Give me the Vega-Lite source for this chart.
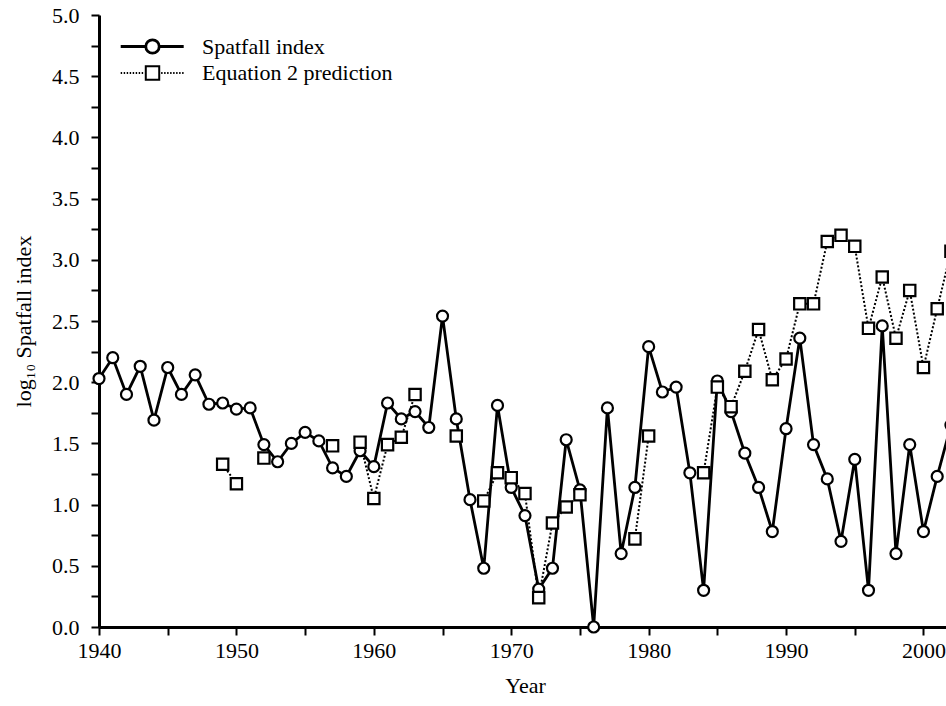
{
  "$schema": "https://vega.github.io/schema/vega-lite/v6.json",
  "width": 847,
  "height": 612,
  "autosize": {"type": "none"},
  "padding": {"left": 99, "top": 15, "right": 0, "bottom": 79},
  "background": "white",
  "config": {
    "view": {"stroke": null},
    "font": "Liberation Serif",
    "axis": {
      "grid": false,
      "ticks": true,
      "domainColor": "black",
      "domainWidth": 3,
      "tickColor": "black",
      "tickWidth": 2,
      "labelColor": "black",
      "labelFont": "Liberation Serif",
      "labelFontSize": 22,
      "titleFont": "Liberation Serif",
      "titleFontSize": 22,
      "titleFontWeight": "normal",
      "titleColor": "black",
      "labelOverlap": false,
      "labelFlush": false,
      "labelBound": false
    }
  },
  "datasets": {
    "series": [
      {"year": 1940, "series": "Spatfall index", "value": 2.03},
      {"year": 1941, "series": "Spatfall index", "value": 2.20},
      {"year": 1942, "series": "Spatfall index", "value": 1.90},
      {"year": 1943, "series": "Spatfall index", "value": 2.13},
      {"year": 1944, "series": "Spatfall index", "value": 1.69},
      {"year": 1945, "series": "Spatfall index", "value": 2.12},
      {"year": 1946, "series": "Spatfall index", "value": 1.90},
      {"year": 1947, "series": "Spatfall index", "value": 2.06},
      {"year": 1948, "series": "Spatfall index", "value": 1.82},
      {"year": 1949, "series": "Spatfall index", "value": 1.83},
      {"year": 1950, "series": "Spatfall index", "value": 1.78},
      {"year": 1951, "series": "Spatfall index", "value": 1.79},
      {"year": 1952, "series": "Spatfall index", "value": 1.49},
      {"year": 1953, "series": "Spatfall index", "value": 1.35},
      {"year": 1954, "series": "Spatfall index", "value": 1.50},
      {"year": 1955, "series": "Spatfall index", "value": 1.59},
      {"year": 1956, "series": "Spatfall index", "value": 1.52},
      {"year": 1957, "series": "Spatfall index", "value": 1.30},
      {"year": 1958, "series": "Spatfall index", "value": 1.23},
      {"year": 1959, "series": "Spatfall index", "value": 1.44},
      {"year": 1960, "series": "Spatfall index", "value": 1.31},
      {"year": 1961, "series": "Spatfall index", "value": 1.83},
      {"year": 1962, "series": "Spatfall index", "value": 1.70},
      {"year": 1963, "series": "Spatfall index", "value": 1.76},
      {"year": 1964, "series": "Spatfall index", "value": 1.63},
      {"year": 1965, "series": "Spatfall index", "value": 2.54},
      {"year": 1966, "series": "Spatfall index", "value": 1.70},
      {"year": 1967, "series": "Spatfall index", "value": 1.04},
      {"year": 1968, "series": "Spatfall index", "value": 0.48},
      {"year": 1969, "series": "Spatfall index", "value": 1.81},
      {"year": 1970, "series": "Spatfall index", "value": 1.14},
      {"year": 1971, "series": "Spatfall index", "value": 0.91},
      {"year": 1972, "series": "Spatfall index", "value": 0.31},
      {"year": 1973, "series": "Spatfall index", "value": 0.48},
      {"year": 1974, "series": "Spatfall index", "value": 1.53},
      {"year": 1975, "series": "Spatfall index", "value": 1.12},
      {"year": 1976, "series": "Spatfall index", "value": 0.00},
      {"year": 1977, "series": "Spatfall index", "value": 1.79},
      {"year": 1978, "series": "Spatfall index", "value": 0.60},
      {"year": 1979, "series": "Spatfall index", "value": 1.14},
      {"year": 1980, "series": "Spatfall index", "value": 2.29},
      {"year": 1981, "series": "Spatfall index", "value": 1.92},
      {"year": 1982, "series": "Spatfall index", "value": 1.96},
      {"year": 1983, "series": "Spatfall index", "value": 1.26},
      {"year": 1984, "series": "Spatfall index", "value": 0.30},
      {"year": 1985, "series": "Spatfall index", "value": 2.01},
      {"year": 1986, "series": "Spatfall index", "value": 1.76},
      {"year": 1987, "series": "Spatfall index", "value": 1.42},
      {"year": 1988, "series": "Spatfall index", "value": 1.14},
      {"year": 1989, "series": "Spatfall index", "value": 0.78},
      {"year": 1990, "series": "Spatfall index", "value": 1.62},
      {"year": 1991, "series": "Spatfall index", "value": 2.36},
      {"year": 1992, "series": "Spatfall index", "value": 1.49},
      {"year": 1993, "series": "Spatfall index", "value": 1.21},
      {"year": 1994, "series": "Spatfall index", "value": 0.70},
      {"year": 1995, "series": "Spatfall index", "value": 1.37},
      {"year": 1996, "series": "Spatfall index", "value": 0.30},
      {"year": 1997, "series": "Spatfall index", "value": 2.46},
      {"year": 1998, "series": "Spatfall index", "value": 0.60},
      {"year": 1999, "series": "Spatfall index", "value": 1.49},
      {"year": 2000, "series": "Spatfall index", "value": 0.78},
      {"year": 2001, "series": "Spatfall index", "value": 1.23},
      {"year": 2002, "series": "Spatfall index", "value": 1.65},
      {"year": 1949, "series": "Equation 2 prediction", "value": 1.33},
      {"year": 1950, "series": "Equation 2 prediction", "value": 1.17},
      {"year": 1951, "series": "Equation 2 prediction", "value": null},
      {"year": 1952, "series": "Equation 2 prediction", "value": 1.38},
      {"year": 1953, "series": "Equation 2 prediction", "value": null},
      {"year": 1956, "series": "Equation 2 prediction", "value": null},
      {"year": 1957, "series": "Equation 2 prediction", "value": 1.48},
      {"year": 1958, "series": "Equation 2 prediction", "value": null},
      {"year": 1959, "series": "Equation 2 prediction", "value": 1.51},
      {"year": 1960, "series": "Equation 2 prediction", "value": 1.05},
      {"year": 1961, "series": "Equation 2 prediction", "value": 1.49},
      {"year": 1962, "series": "Equation 2 prediction", "value": 1.55},
      {"year": 1963, "series": "Equation 2 prediction", "value": 1.90},
      {"year": 1964, "series": "Equation 2 prediction", "value": null},
      {"year": 1966, "series": "Equation 2 prediction", "value": 1.56},
      {"year": 1967, "series": "Equation 2 prediction", "value": null},
      {"year": 1968, "series": "Equation 2 prediction", "value": 1.03},
      {"year": 1969, "series": "Equation 2 prediction", "value": 1.26},
      {"year": 1970, "series": "Equation 2 prediction", "value": 1.22},
      {"year": 1971, "series": "Equation 2 prediction", "value": 1.09},
      {"year": 1972, "series": "Equation 2 prediction", "value": 0.24},
      {"year": 1973, "series": "Equation 2 prediction", "value": 0.85},
      {"year": 1974, "series": "Equation 2 prediction", "value": 0.98},
      {"year": 1975, "series": "Equation 2 prediction", "value": 1.08},
      {"year": 1976, "series": "Equation 2 prediction", "value": null},
      {"year": 1979, "series": "Equation 2 prediction", "value": 0.72},
      {"year": 1980, "series": "Equation 2 prediction", "value": 1.56},
      {"year": 1981, "series": "Equation 2 prediction", "value": null},
      {"year": 1984, "series": "Equation 2 prediction", "value": 1.26},
      {"year": 1985, "series": "Equation 2 prediction", "value": 1.96},
      {"year": 1986, "series": "Equation 2 prediction", "value": 1.80},
      {"year": 1987, "series": "Equation 2 prediction", "value": 2.09},
      {"year": 1988, "series": "Equation 2 prediction", "value": 2.43},
      {"year": 1989, "series": "Equation 2 prediction", "value": 2.02},
      {"year": 1990, "series": "Equation 2 prediction", "value": 2.19},
      {"year": 1991, "series": "Equation 2 prediction", "value": 2.64},
      {"year": 1992, "series": "Equation 2 prediction", "value": 2.64},
      {"year": 1993, "series": "Equation 2 prediction", "value": 3.15},
      {"year": 1994, "series": "Equation 2 prediction", "value": 3.20},
      {"year": 1995, "series": "Equation 2 prediction", "value": 3.11},
      {"year": 1996, "series": "Equation 2 prediction", "value": 2.44},
      {"year": 1997, "series": "Equation 2 prediction", "value": 2.86},
      {"year": 1998, "series": "Equation 2 prediction", "value": 2.36},
      {"year": 1999, "series": "Equation 2 prediction", "value": 2.75},
      {"year": 2000, "series": "Equation 2 prediction", "value": 2.12},
      {"year": 2001, "series": "Equation 2 prediction", "value": 2.60},
      {"year": 2002, "series": "Equation 2 prediction", "value": 3.07}
    ]
  },
  "data": {"name": "series"},
  "encoding": {
    "x": {
      "field": "year",
      "type": "quantitative",
      "scale": {"domain": [1940, 2001.64], "nice": false, "zero": false},
      "axis": {
        "title": "Year",
        "titleX": 426,
        "titlePadding": 14,
        "values": [1940, 1945, 1950, 1955, 1960, 1965, 1970, 1975, 1980, 1985, 1990, 1995, 2000],
        "labelExpr": "datum.value % 10 === 0 ? format(datum.value, 'd') : ''",
        "tickSize": 8,
        "labelPadding": 5
      }
    },
    "y": {
      "field": "value",
      "type": "quantitative",
      "scale": {"domain": [0, 5], "nice": false, "zero": false},
      "axis": {
        "title": "log₁₀ Spatfall index",
        "titlePadding": 16,
        "values": [0, 0.25, 0.5, 0.75, 1, 1.25, 1.5, 1.75, 2, 2.25, 2.5, 2.75, 3, 3.25, 3.5, 3.75, 4, 4.25, 4.5, 4.75, 5],
        "labelExpr": "datum.value % 0.5 === 0 ? format(datum.value, '.1f') : ''",
        "tickSize": 8,
        "labelPadding": 12
      }
    }
  },
  "layer": [
    {
      "transform": [{"filter": "datum.series === 'Spatfall index'"}],
      "mark": {"type": "line", "color": "black"},
      "encoding": {
        "strokeWidth": {
          "field": "series", "type": "nominal",
          "scale": {"domain": ["Spatfall index", "Equation 2 prediction"], "range": [2.8, 2]},
          "legend": {
            "title": null,
            "orient": "none",
            "legendX": 40,
            "legendY": 18,
            "padding": 0,
            "symbolSize": 576,
            "symbolType": {"expr": "datum.value === 'Spatfall index' ? 'M-2.65,0H-0.56M0.56,0H2.6M0.56,0A0.56,0.56,0,1,1,-0.56,0A0.56,0.56,0,1,1,0.56,0Z' : 'M-2.65,0h0.12M-2.4,0h0.12M-2.15,0h0.12M-1.9,0h0.12M-1.65,0h0.12M-1.4,0h0.12M-1.15,0h0.12M-0.9,0h0.12M0.72,0h0.12M0.97,0h0.12M1.22,0h0.12M1.47,0h0.12M1.72,0h0.12M1.97,0h0.12M2.22,0h0.12M2.47,0h0.12M-0.56,-0.56H0.56V0.56H-0.56Z'"},
            "symbolStrokeColor": "black",
            "symbolFillColor": "white",
            "labelOffset": 36,
            "rowPadding": 1,
            "labelFont": "Liberation Serif",
            "labelFontSize": 22,
            "labelColor": "black",
            "labelLimit": 400
          }
        }
      }
    },
    {
      "transform": [{"filter": "datum.series === 'Equation 2 prediction'"}],
      "mark": {"type": "line", "color": "black", "strokeDash": [2, 2], "invalid": "break-paths-filter-domains"},
      "encoding": {
        "strokeWidth": {
          "field": "series", "type": "nominal",
          "scale": {"domain": ["Spatfall index", "Equation 2 prediction"], "range": [2.8, 2]},
          "legend": {
            "title": null,
            "orient": "none",
            "legendX": 40,
            "legendY": 18,
            "padding": 0,
            "symbolSize": 576,
            "symbolType": {"expr": "datum.value === 'Spatfall index' ? 'M-2.65,0H-0.56M0.56,0H2.6M0.56,0A0.56,0.56,0,1,1,-0.56,0A0.56,0.56,0,1,1,0.56,0Z' : 'M-2.65,0h0.12M-2.4,0h0.12M-2.15,0h0.12M-1.9,0h0.12M-1.65,0h0.12M-1.4,0h0.12M-1.15,0h0.12M-0.9,0h0.12M0.72,0h0.12M0.97,0h0.12M1.22,0h0.12M1.47,0h0.12M1.72,0h0.12M1.97,0h0.12M2.22,0h0.12M2.47,0h0.12M-0.56,-0.56H0.56V0.56H-0.56Z'"},
            "symbolStrokeColor": "black",
            "symbolFillColor": "white",
            "labelOffset": 36,
            "rowPadding": 1,
            "labelFont": "Liberation Serif",
            "labelFontSize": 22,
            "labelColor": "black",
            "labelLimit": 400
          }
        }
      }
    },
    {
      "transform": [{"filter": "datum.series === 'Spatfall index'"}],
      "mark": {"type": "point", "shape": "circle", "filled": true, "fill": "white", "stroke": "black", "strokeWidth": 2.2, "size": 121, "opacity": 1}
    },
    {
      "transform": [{"filter": "datum.series === 'Equation 2 prediction'"}],
      "mark": {"type": "point", "shape": "square", "filled": true, "fill": "white", "stroke": "black", "strokeWidth": 2.2, "size": 128, "opacity": 1}
    },
    {
      "data": {"values": [{"year": 1976}]},
      "mark": {"type": "rule", "color": "black", "strokeWidth": 2.5},
      "encoding": {"y": {"datum": 0}, "y2": {"datum": 5}}
    },
    {
      "data": {"values": [{"border": "top"}]},
      "mark": {"type": "rule", "color": "black", "strokeWidth": 3},
      "encoding": {"x": {"datum": 1940}, "x2": {"datum": 2001.64}, "y": {"datum": 5}}
    }
  ]
}
